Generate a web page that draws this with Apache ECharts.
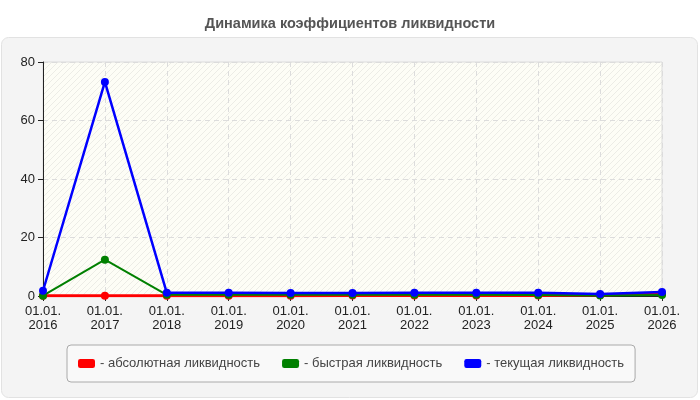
<!DOCTYPE html>
<html>
<head>
<meta charset="utf-8">
<script src="https://cdn.jsdelivr.net/npm/echarts@6/dist/echarts.min.js"></script>
<style>
  html, body { margin: 0; padding: 0; background: #fff; }
  #chart1 { width: 700px; height: 400px; }
</style>
</head>
<body>
<div id="chart1"></div>
<script>
// данные
const years = ['2016', '2017', '2018', '2019', '2020', '2021', '2022', '2023', '2024', '2025', '2026'];
const absolute = [0.05, 0.1, 0.1, 0.1, 0.1, 0.2, 0.2, 0.2, 0.15, 0.3, 0.8];
const quick = [0.1, 12.4, 0.4, 0.4, 0.4, 0.4, 0.4, 0.4, 0.3, 0.2, 0.3];
const current = [1.8, 73.2, 1.1, 1.1, 1.0, 1.0, 1.1, 1.1, 1.1, 0.7, 1.4];
const seriesNames = ['- абсолютная ликвидность', '- быстрая ликвидность', '- текущая ликвидность'];
const seriesColors = ['#ff0000', '#008000', '#0000ff'];

// штриховка фона
function makeHatch() {
    const c = document.createElement('canvas');
    c.width = 6; c.height = 6;
    const ctx = c.getContext('2d');
    ctx.fillStyle = '#fdfdf6';
    ctx.fillRect(0, 0, 6, 6);
    ctx.strokeStyle = '#ecece6';
    ctx.lineWidth = 1;
    ctx.beginPath();
    ctx.moveTo(0, 6); ctx.lineTo(6, 0);
    ctx.moveTo(-1, 1); ctx.lineTo(1, -1);
    ctx.moveTo(5, 7); ctx.lineTo(7, 5);
    ctx.stroke();
    return c;
}

function initChart() {
    const chart = echarts.init(document.getElementById('chart1'), null, { renderer: 'canvas' });
    const allData = [absolute, quick, current];
    const widths = [3, 2, 2.5];

    const option = {
        animation: false,
        textStyle: { fontFamily: '"Liberation Sans", Arial, sans-serif' },
        graphic: [
            {
                type: 'rect',
                shape: { x: 1.5, y: 37.5, width: 696, height: 360, r: 7 },
                style: { fill: '#f4f4f4', stroke: '#e2e2e2', lineWidth: 1 },
                z: -10
            }
        ],
        title: {
            text: 'Динамика коэффициентов ликвидности',
            left: 'center',
            top: 11,
            textStyle: { fontSize: 14.5, fontWeight: 'bold', color: '#555', fontFamily: '"Liberation Sans", Arial, sans-serif' }
        },
        grid: {
            left: 43, right: 38, top: 62, bottom: 104,
            show: true,
            backgroundColor: { image: makeHatch(), repeat: 'repeat' },
            borderColor: '#dcdcdc',
            borderWidth: 1
        },
        xAxis: {
            type: 'category',
            data: years,
            boundaryGap: false,
            axisLine: { lineStyle: { color: '#222', width: 1 } },
            axisTick: { show: true, length: 5, lineStyle: { color: '#222' } },
            axisLabel: {
                color: '#222', fontSize: 13, margin: 8, lineHeight: 14,
                fontFamily: '"Liberation Sans", Arial, sans-serif',
                formatter: v => '01.01.\n' + v
            },
            splitLine: { show: true, lineStyle: { color: '#dcdcdc', type: [5, 4] } }
        },
        yAxis: {
            type: 'value',
            min: 0, max: 80, interval: 20,
            axisLine: { show: true, lineStyle: { color: '#222', width: 1 } },
            axisTick: { show: true, length: 5, lineStyle: { color: '#222' } },
            axisLabel: { color: '#222', fontSize: 13, margin: 8, fontFamily: '"Liberation Sans", Arial, sans-serif' },
            splitLine: { show: true, lineStyle: { color: '#dcdcdc', type: [5, 4] } }
        },
        legend: {
            left: 67, top: 345,
            padding: [12, 11, 12, 11],
            itemGap: 22,
            itemWidth: 17, itemHeight: 9,
            icon: 'roundRect',
            backgroundColor: '#f9f9f9',
            borderColor: '#aaa',
            borderWidth: 1,
            borderRadius: 4,
            textStyle: { color: '#444', fontSize: 13, fontFamily: '"Liberation Sans", Arial, sans-serif' },
            data: seriesNames
        },
        series: seriesNames.map((name, i) => ({
            name: name,
            type: 'line',
            data: allData[i],
            color: seriesColors[i],
            symbol: 'circle',
            symbolSize: 8,
            lineStyle: { width: widths[i], color: seriesColors[i] },
            itemStyle: { color: seriesColors[i] },
            z: 2 + i
        }))
    };

    chart.setOption(option);
}

window.addEventListener('load', initChart);
</script>
</body>
</html>
